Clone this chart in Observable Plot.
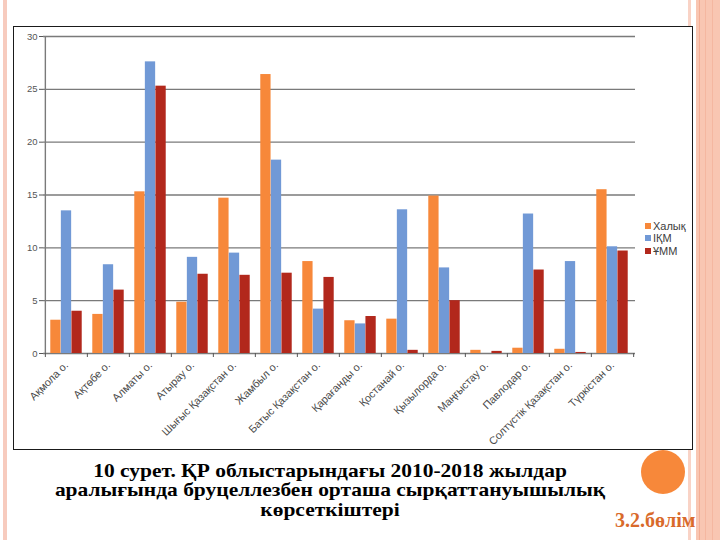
<!DOCTYPE html>
<html>
<head>
<meta charset="utf-8">
<script src="https://cdn.jsdelivr.net/npm/d3@7"></script>
<script src="https://cdn.jsdelivr.net/npm/@observablehq/plot@0.6"></script>
<style>
  html, body { margin: 0; padding: 0; }
  body { width: 720px; height: 540px; position: relative; overflow: hidden; background: #fff; font-family: "Liberation Sans", Arial, sans-serif; }
  .abs { position: absolute; }
  #box { left: 13px; top: 26px; width: 680px; height: 424px; box-sizing: border-box; border: 1.5px solid #1a1a1a; background: #fff; }
  #chart { left: 14px; top: 27px; }
  #legend { left: 645px; top: 220px; font-size: 11px; color: #404040; line-height: 12.3px; }
  #legend .row { display: flex; align-items: center; white-space: nowrap; }
  #legend .sw { width: 6px; height: 6px; margin-right: 2px; display: inline-block; }
  #caption { left: 0; top: 461px; width: 660px; text-align: center; font-family: "Liberation Serif", "Times New Roman", serif; font-weight: bold; font-size: 19px; line-height: 19.3px; color: #000; transform: scaleX(1.13); transform-origin: 330px 0; }
  #section { left: 615px; top: 509px; font-family: "Liberation Serif", "Times New Roman", serif; font-weight: bold; font-size: 20px; color: #D96A2B; white-space: nowrap; }
  #circle { left: 641px; top: 450px; width: 44px; height: 44px; border-radius: 50%; background: #F7883A; }
</style>
</head>
<body>
<div class="abs" style="left:3px;top:0;width:4px;height:540px;background:#F7CBBE"></div>
<div class="abs" style="left:688px;top:0;width:3px;height:540px;background:#F9D3C6"></div>
<div class="abs" style="left:696px;top:0;width:24px;height:540px;background:#F9C6B2"></div>
<div class="abs" style="left:699px;top:0;width:1px;height:540px;background:#F3AE95"></div>
<div class="abs" style="left:705px;top:0;width:1px;height:540px;background:#F5B7A0"></div>
<div class="abs" style="left:712px;top:0;width:1px;height:540px;background:#F5B7A0"></div>
<div id="box" class="abs"></div>
<div id="chart" class="abs"></div>
<div id="legend" class="abs"></div>
<div id="caption" class="abs">10 сурет. ҚР облыстарындағы 2010-2018 жылдар<br>аралығында бруцеллезбен орташа сырқаттануышылық<br>көрсеткіштері</div>
<div id="circle" class="abs"></div>
<div id="section" class="abs">3.2.бөлім</div>
<script>
const regions = ["Ақмола о.", "Ақтөбе о.", "Алматы о.", "Атырау о.", "Шығыс Қазақстан о.", "Жамбыл о.", "Батыс Қазақстан о.", "Қарағанды о.", "Қостанай о.", "Қызылорда о.", "Маңғыстау о.", "Павлодар о.", "Солтүстік Қазақстан о.", "Түркістан о."];
const series = ["Халық", "ІҚМ", "ҰММ"];
const halyk = [3.15, 3.7, 15.3, 4.85, 14.7, 26.4, 8.7, 3.1, 3.25, 14.9, 0.3, 0.5, 0.4, 15.5];
const ikm   = [13.5, 8.4, 27.6, 9.1, 9.5, 18.3, 4.2, 2.8, 13.6, 8.1, 0, 13.2, 8.7, 10.1];
const umm   = [4.0, 6.0, 25.3, 7.5, 7.4, 7.6, 7.2, 3.5, 0.3, 5.0, 0.2, 7.9, 0.1, 9.7];
const yTicks = [0, 5, 10, 15, 20, 25, 30];
const colors = ["#F7883A", "#7199D6", "#B2281C"];

const values = [halyk, ikm, umm];
const data = regions.flatMap((r, i) => series.map((s, j) => ({region: r, series: s, value: values[j][i]})));

const W = 678, H = 421, mL = 29, mR = 57, mT = 9, mB = 95;
const step = (W - mL - mR) / regions.length;

const barMarks = series.map((s, j) => Plot.barY(data.filter(d => d.series === s), {
  x: "region", y: "value", fill: "series",
  insetLeft: step * (0.125 + 0.25 * j),
  insetRight: step * (1 - 0.125 - 0.25 * (j + 1))
}));

const chart = Plot.plot({
  width: W, height: H,
  marginLeft: mL, marginRight: mR, marginTop: mT, marginBottom: mB,
  style: {fontFamily: "'Liberation Sans', Arial, sans-serif", fontSize: "9.5px", background: "transparent", overflow: "visible"},
  x: {domain: regions, padding: 0, axis: null},
  y: {domain: [0, 30], axis: null},
  color: {domain: series, range: colors},
  marks: [
    Plot.ruleY(yTicks, {stroke: "#7a7a7a", strokeWidth: 1.4}),
    ...barMarks,
    Plot.ruleX([regions[0]], {dx: -step / 2, stroke: "#7a7a7a", strokeWidth: 1.4}),
    Plot.axisY({ticks: yTicks, tickSize: 4, tickPadding: 2, fontSize: 9.5, color: "#555", label: null}),
    Plot.axisX({tickSize: 4, tickFormat: () => "", dx: -step / 2, color: "#555", label: null}),
    Plot.axisX({ticks: [regions[regions.length - 1]], tickSize: 4, tickFormat: () => "", dx: step / 2, color: "#555", label: null}),
    Plot.axisX({tickSize: 0, tickPadding: 10, tickRotate: -45, fontSize: 10.8, color: "#4a4a4a", label: null})
  ]
});
document.getElementById("chart").appendChild(chart);

const legend = document.getElementById("legend");
series.forEach((s, j) => {
  const row = document.createElement("div");
  row.className = "row";
  row.innerHTML = `<span class="sw" style="background:${colors[j]}"></span><span>${s}</span>`;
  legend.appendChild(row);
});
</script>
</body>
</html>
